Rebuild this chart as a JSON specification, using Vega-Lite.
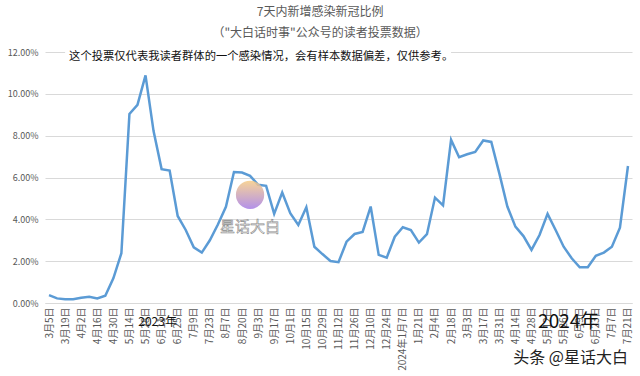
{
  "$schema": "https://vega.github.io/schema/vega-lite/v6.json",
  "width": 587,
  "height": 251,
  "autosize": {"type": "none"},
  "padding": {"left": 45, "top": 52, "right": 8, "bottom": 73},
  "background": "white",
  "config": {"font": "Noto Sans CJK SC", "view": {"stroke": null}},
  "title": {
    "text": "7天内新增感染新冠比例",
    "subtitle": "（\"大白话时事\"公众号的读者投票数据）",
    "anchor": "middle",
    "frame": "bounds",
    "fontSize": 12,
    "fontWeight": "normal",
    "color": "#595959",
    "subtitleFontSize": 12,
    "subtitleColor": "#595959",
    "subtitlePadding": 9,
    "offset": 8
  },
  "data": {
    "values": [
      {"date": "2023-03-05", "rate": 0.0038},
      {"date": "2023-03-12", "rate": 0.0022},
      {"date": "2023-03-19", "rate": 0.0018},
      {"date": "2023-03-26", "rate": 0.0018},
      {"date": "2023-04-02", "rate": 0.0025},
      {"date": "2023-04-09", "rate": 0.0030},
      {"date": "2023-04-16", "rate": 0.0022},
      {"date": "2023-04-23", "rate": 0.0035},
      {"date": "2023-04-30", "rate": 0.0118},
      {"date": "2023-05-07", "rate": 0.0238},
      {"date": "2023-05-14", "rate": 0.0904},
      {"date": "2023-05-21", "rate": 0.0947},
      {"date": "2023-05-28", "rate": 0.1088},
      {"date": "2023-06-04", "rate": 0.0822},
      {"date": "2023-06-11", "rate": 0.0640},
      {"date": "2023-06-18", "rate": 0.0633},
      {"date": "2023-06-25", "rate": 0.0416},
      {"date": "2023-07-02", "rate": 0.0349},
      {"date": "2023-07-09", "rate": 0.0266},
      {"date": "2023-07-16", "rate": 0.0241},
      {"date": "2023-07-23", "rate": 0.0300},
      {"date": "2023-07-30", "rate": 0.0375},
      {"date": "2023-08-07", "rate": 0.0460},
      {"date": "2023-08-13", "rate": 0.0626},
      {"date": "2023-08-20", "rate": 0.0624},
      {"date": "2023-08-27", "rate": 0.0608},
      {"date": "2023-09-03", "rate": 0.0565},
      {"date": "2023-09-10", "rate": 0.0560},
      {"date": "2023-09-17", "rate": 0.0426},
      {"date": "2023-09-24", "rate": 0.0528},
      {"date": "2023-10-01", "rate": 0.0429},
      {"date": "2023-10-08", "rate": 0.0373},
      {"date": "2023-10-15", "rate": 0.0458},
      {"date": "2023-10-22", "rate": 0.0269},
      {"date": "2023-10-29", "rate": 0.0234},
      {"date": "2023-11-05", "rate": 0.0201},
      {"date": "2023-11-12", "rate": 0.0195},
      {"date": "2023-11-19", "rate": 0.0293},
      {"date": "2023-11-26", "rate": 0.0330},
      {"date": "2023-12-03", "rate": 0.0340},
      {"date": "2023-12-10", "rate": 0.0461},
      {"date": "2023-12-17", "rate": 0.0230},
      {"date": "2023-12-24", "rate": 0.0217},
      {"date": "2023-12-31", "rate": 0.0317},
      {"date": "2024-01-07", "rate": 0.0362},
      {"date": "2024-01-14", "rate": 0.0349},
      {"date": "2024-01-21", "rate": 0.0289},
      {"date": "2024-01-28", "rate": 0.0329},
      {"date": "2024-02-04", "rate": 0.0504},
      {"date": "2024-02-11", "rate": 0.0467},
      {"date": "2024-02-18", "rate": 0.0780},
      {"date": "2024-02-25", "rate": 0.0697},
      {"date": "2024-03-03", "rate": 0.0711},
      {"date": "2024-03-10", "rate": 0.0722},
      {"date": "2024-03-17", "rate": 0.0777},
      {"date": "2024-03-24", "rate": 0.0770},
      {"date": "2024-03-31", "rate": 0.0620},
      {"date": "2024-04-07", "rate": 0.0461},
      {"date": "2024-04-14", "rate": 0.0365},
      {"date": "2024-04-21", "rate": 0.0320},
      {"date": "2024-04-28", "rate": 0.0254},
      {"date": "2024-05-05", "rate": 0.0325},
      {"date": "2024-05-12", "rate": 0.0426},
      {"date": "2024-05-19", "rate": 0.0349},
      {"date": "2024-05-26", "rate": 0.0269},
      {"date": "2024-06-02", "rate": 0.0214},
      {"date": "2024-06-09", "rate": 0.0171},
      {"date": "2024-06-16", "rate": 0.0171},
      {"date": "2024-06-23", "rate": 0.0226},
      {"date": "2024-06-30", "rate": 0.0241},
      {"date": "2024-07-07", "rate": 0.0269},
      {"date": "2024-07-14", "rate": 0.0360},
      {"date": "2024-07-21", "rate": 0.0655}
    ]
  },
  "layer": [
    {
      "mark": {"type": "line", "color": "#5b9bd5", "strokeWidth": 2.5},
      "encoding": {
        "x": {
          "field": "date",
          "type": "ordinal",
          "sort": null,
          "scale": {"type": "point", "padding": 0.5},
          "axis": {
            "title": null,
            "labelAngle": -90,
            "values": ["2023-03-05","2023-03-19","2023-04-02","2023-04-16","2023-04-30","2023-05-14","2023-05-28","2023-06-11","2023-06-25","2023-07-09","2023-07-23","2023-08-07","2023-08-20","2023-09-03","2023-09-17","2023-10-01","2023-10-15","2023-10-29","2023-11-12","2023-11-26","2023-12-10","2023-12-24","2024-01-07","2024-01-21","2024-02-04","2024-02-18","2024-03-03","2024-03-17","2024-03-31","2024-04-14","2024-04-28","2024-05-12","2024-05-26","2024-06-09","2024-06-23","2024-07-07","2024-07-21"],
            "labelExpr": "datum.value == '2024-01-07' ? '2024年1月7日' : toNumber(slice(datum.value,5,7)) + '月' + toNumber(slice(datum.value,8,10)) + '日'",
            "labelFontSize": 10,
            "labelColor": "#595959",
            "labelOverlap": false,
            "labelPadding": 4,
            "ticks": false,
            "domainColor": "#d9d9d9",
            "grid": false
          }
        },
        "y": {
          "field": "rate",
          "type": "quantitative",
          "scale": {"domain": [0, 0.12], "nice": false},
          "axis": {
            "title": null,
            "format": ".2%",
            "values": [0, 0.02, 0.04, 0.06, 0.08, 0.1, 0.12],
            "grid": true,
            "gridColor": "#d9d9d9",
            "domain": false,
            "ticks": false,
            "labelFontSize": 9,
            "labelColor": "#595959",
            "labelPadding": 7
          }
        }
      }
    },
    {
      "data": {"values": [{}]},
      "mark": {"type": "rect", "fill": "white"},
      "encoding": {
        "x": {"datum": "2023-03-19", "type": "ordinal"},
        "x2": {"datum": "2024-02-18"},
        "y": {"datum": 0.1155, "type": "quantitative"},
        "y2": {"datum": 0.1215}
      }
    },
    {
      "data": {"values": [{}]},
      "mark": {"type": "text", "text": "这个投票仅代表我读者群体的一个感染情况，会有样本数据偏差，仅供参考。", "align": "left", "baseline": "middle", "fontSize": 11.3, "color": "#111111", "dx": 4},
      "encoding": {
        "x": {"datum": "2023-03-19", "type": "ordinal"},
        "y": {"datum": 0.1177, "type": "quantitative"}
      }
    },
    {
      "data": {"values": [{}]},
      "mark": {"type": "point", "shape": "circle", "size": 800, "filled": true, "opacity": 0.85, "fill": {"gradient": "linear", "x1": 0, "y1": 0, "x2": 0, "y2": 1, "stops": [{"offset": 0, "color": "#f6cc85"}, {"offset": 1, "color": "#a57de6"}]}},
      "encoding": {
        "x": {"datum": "2023-08-27", "type": "ordinal"},
        "y": {"datum": 0.0517, "type": "quantitative"}
      }
    },
    {
      "data": {"values": [{}]},
      "mark": {"type": "text", "text": "星话大白", "align": "center", "baseline": "middle", "fontSize": 15, "fill": "white", "stroke": "#8a8a8a", "strokeWidth": 0.6},
      "encoding": {
        "x": {"datum": "2023-08-27", "type": "ordinal"},
        "y": {"datum": 0.0364, "type": "quantitative"}
      }
    },
    {
      "data": {"values": [{}]},
      "mark": {"type": "text", "text": "2023年", "align": "center", "baseline": "middle", "fontSize": 12, "color": "#111111", "dx": 4},
      "encoding": {
        "x": {"datum": "2023-06-04", "type": "ordinal"},
        "y": {"datum": -0.0091, "type": "quantitative"}
      }
    },
    {
      "data": {"values": [{}]},
      "mark": {"type": "text", "text": "2024年", "align": "center", "baseline": "middle", "fontSize": 19, "color": "#111111", "dx": -3},
      "encoding": {
        "x": {"datum": "2024-06-02", "type": "ordinal"},
        "y": {"datum": -0.0089, "type": "quantitative"}
      }
    },
    {
      "data": {"values": [{}]},
      "mark": {"type": "text", "text": "头条 @星话大白", "align": "right", "baseline": "middle", "fontSize": 16, "color": "#222222", "dx": 0},
      "encoding": {
        "x": {"datum": "2024-07-21", "type": "ordinal"},
        "y": {"datum": -0.0263, "type": "quantitative"}
      }
    }
  ]
}
